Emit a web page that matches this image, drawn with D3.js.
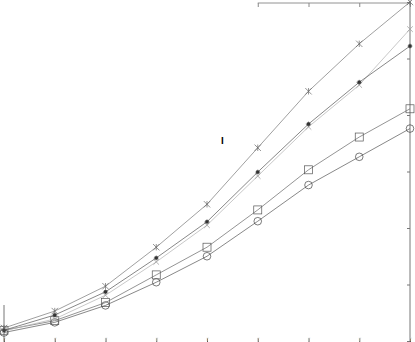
<!DOCTYPE html>
<html><head><meta charset="utf-8">
<script src="https://cdn.jsdelivr.net/npm/d3@7/dist/d3.min.js"></script>
<style>body{margin:0;background:#fff}svg{display:block}text{-webkit-font-smoothing:antialiased}</style>
</head><body>
<svg id="c" width="415" height="342"></svg>
<script>
const categories = [1, 2, 3, 4, 5, 6, 7, 8, 9];
const seriesCross = [23, 53, 97, 166, 242, 342, 442, 526, 600];
const seriesStar = [19, 46, 87, 147, 211, 299, 384, 458, 522];
const seriesGrey = [18, 39, 81, 140, 205, 292, 379, 453, 552];
const seriesSquare = [19, 36, 68, 117, 166, 232, 303, 361, 411];
const seriesCircle = [15, 33, 63, 104, 150, 212, 276, 326, 376];
const yTicks = [0, 100, 200, 300, 400, 500, 600];
const topTicks = [6, 7, 8, 9];

const svg = d3.select("#c");
const x = d3.scaleLinear().domain([1, 9]).range([4, 410]);
const y = d3.scaleLinear().domain([0, 600]).range([341, 2]);

// right axis
const ra = svg.append("g").attr("transform", "translate(410,0)")
  .call(d3.axisLeft(y).tickValues(yTicks).tickSize(3).tickFormat(""));
ra.select(".domain").attr("stroke", "#666").attr("stroke-width", 0.9).attr("d", "M0,2V342");
ra.selectAll(".tick line").attr("stroke", "#777");

// top axis (partial)
const ta = svg.append("g").attr("transform", "translate(0,3)")
  .call(d3.axisBottom(x).tickValues(topTicks).tickSize(4).tickFormat(""));
ta.select(".domain").attr("stroke", "#777").attr("stroke-width", 0.8).attr("d", `M${x(6)},0H${x(9)}`);
ta.selectAll(".tick line").attr("stroke", "#888");

// bottom axis ticks
const ba = svg.append("g").attr("transform", "translate(0,342)")
  .call(d3.axisTop(x).tickValues(categories).tickSize(4).tickFormat(d => "r"));
ba.select(".domain").remove();
ba.selectAll(".tick line").attr("stroke", "#555");
ba.selectAll(".tick text").attr("font-size", 6).attr("font-family", "DejaVu Sans")
  .attr("fill", "#ccc").attr("x", 0).attr("y", -1);

// left partial axis line
svg.append("line").attr("x1", x(1)).attr("x2", x(1)).attr("y1", 305).attr("y2", 342)
  .attr("stroke", "#666").attr("stroke-width", 0.9);

// stray text mark
svg.append("text").attr("x", 221).attr("y", 144).attr("font-size", 8)
  .attr("font-family", "DejaVu Sans").attr("font-weight", "bold").attr("fill", "#000").text("l");

const line = d3.line().x((d, i) => x(categories[i])).y(d => y(d));

function drawSeries(data, color, marker, mcolor) {
  svg.append("path").datum(data).attr("d", line).attr("fill", "none")
    .attr("stroke", color).attr("stroke-width", 0.7);
  const g = svg.append("g");
  data.forEach((v, i) => {
    const cx = x(categories[i]), cy = y(v);
    if (marker === "cross") {
      const s = 3.2;
      g.append("path").attr("d", `M${cx-s},${cy-s}L${cx+s},${cy+s}M${cx-s},${cy+s}L${cx+s},${cy-s}M${cx},${cy-s}V${cy+s}`)
        .attr("stroke", mcolor).attr("stroke-width", 0.7).attr("fill", "none");
    } else if (marker === "star") {
      g.append("rect").attr("x", cx - 1.6).attr("y", cy - 1.6).attr("width", 3.2).attr("height", 3.2)
        .attr("fill", mcolor);
      const s = 2.4;
      g.append("path").attr("d", `M${cx-s},${cy}H${cx+s}M${cx},${cy-s}V${cy+s}`)
        .attr("stroke", mcolor).attr("stroke-width", 0.7);
    } else if (marker === "x") {
      const s = 2.8;
      g.append("path").attr("d", `M${cx-s},${cy-s}L${cx+s},${cy+s}M${cx-s},${cy+s}L${cx+s},${cy-s}`)
        .attr("stroke", mcolor).attr("stroke-width", 0.8).attr("fill", "none");
    } else if (marker === "square") {
      g.append("rect").attr("x", cx - 4).attr("y", cy - 4).attr("width", 8).attr("height", 8)
        .attr("fill", "none").attr("stroke", mcolor).attr("stroke-width", 0.7);
    } else if (marker === "circle") {
      g.append("circle").attr("cx", cx).attr("cy", cy).attr("r", 3.8)
        .attr("fill", "none").attr("stroke", mcolor).attr("stroke-width", 0.7);
    }
  });
}

drawSeries(seriesCircle, "#555", "circle", "#444");
drawSeries(seriesSquare, "#666", "square", "#555");
drawSeries(seriesGrey, "#b0b0b0", "x", "#a0a0a0");
drawSeries(seriesStar, "#555", "star", "#333");
drawSeries(seriesCross, "#777", "cross", "#666");
</script>
</body></html>
